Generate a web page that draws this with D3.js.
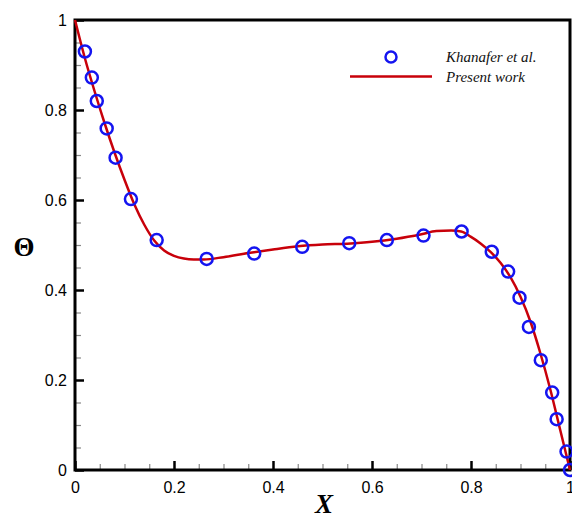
<!DOCTYPE html>
<html><head><meta charset="utf-8">
<script src="https://cdn.jsdelivr.net/npm/d3@7"></script>
<style>html,body{margin:0;padding:0;background:#fff;overflow:hidden}</style>
</head><body><svg id="c" width="572" height="514"></svg>
<script>
// Khanafer et al. (circles)
const refX = [0.020,0.034,0.044,0.064,0.082,0.113,0.165,0.266,0.362,0.459,0.554,0.630,0.704,0.781,0.842,0.875,0.898,0.917,0.941,0.964,0.973,0.993,1.000];
const refY = [0.930,0.872,0.820,0.759,0.694,0.602,0.511,0.469,0.481,0.496,0.504,0.511,0.521,0.530,0.485,0.441,0.383,0.318,0.244,0.172,0.113,0.041,0.000];
// Present work (line)
const lineX = [0,0.02,0.04,0.06,0.08,0.1,0.12,0.14,0.16,0.18,0.2,0.22,0.24,0.26,0.3,0.35,0.4,0.45,0.5,0.55,0.6,0.65,0.7,0.73,0.76,0.78,0.8,0.82,0.84,0.86,0.88,0.9,0.92,0.94,0.96,0.98,1.0];
const lineY = [1,0.915,0.84,0.77,0.705,0.645,0.59,0.545,0.51,0.488,0.476,0.47,0.468,0.468,0.473,0.482,0.49,0.497,0.501,0.503,0.507,0.514,0.524,0.531,0.532,0.53,0.518,0.503,0.484,0.46,0.428,0.385,0.33,0.26,0.18,0.09,0];
const xTicks = [0,0.2,0.4,0.6,0.8,1];
const yTicks = [0,0.2,0.4,0.6,0.8,1];
const minorTicks = d3.range(0.05,1,0.05).filter(v => Math.abs(v*5-Math.round(v*5))>1e-6);
const legendLabels = ["Khanafer et al.","Present work"];

const svg = d3.select("#c");
const L=75,R=570,T=20,B=470;
const x = d3.scaleLinear().domain([0,1]).range([L,R]);
const y = d3.scaleLinear().domain([0,1]).range([B,T]);

const g = svg.append("g");
// minor ticks
const xMinor = d3.axisBottom(x).tickValues(minorTicks).tickSize(-6).tickFormat("");
const gxm = g.append("g").attr("transform",`translate(0,${B})`).call(xMinor);
gxm.select(".domain").remove();
gxm.selectAll("line").attr("stroke","#888").attr("stroke-width",1.2);
const yMinor = d3.axisLeft(y).tickValues(minorTicks).tickSize(-6).tickFormat("");
const gym = g.append("g").attr("transform",`translate(${L},0)`).call(yMinor);
gym.select(".domain").remove();
gym.selectAll("line").attr("stroke","#888").attr("stroke-width",1.2);

// major
const xAxis = d3.axisBottom(x).tickValues(xTicks).tickSize(-9).tickPadding(12).tickFormat(d3.format("~g"));
const gx = g.append("g").attr("transform",`translate(0,${B})`).call(xAxis);
gx.select(".domain").remove();
gx.selectAll("line").attr("stroke","#000").attr("stroke-width",2.5);
gx.selectAll("text").attr("font-family","Liberation Sans, Arial, sans-serif").attr("font-size",16).attr("fill","#000");
const yAxis = d3.axisLeft(y).tickValues(yTicks).tickSize(-9).tickPadding(8).tickFormat(d3.format("~g"));
const gy = g.append("g").attr("transform",`translate(${L},0)`).call(yAxis);
gy.select(".domain").remove();
gy.selectAll("line").attr("stroke","#000").attr("stroke-width",2.5);
gy.selectAll("text").attr("font-family","Liberation Sans, Arial, sans-serif").attr("font-size",16).attr("fill","#000");

// frame
g.append("rect").attr("x",L).attr("y",T).attr("width",R-L).attr("height",B-T)
  .attr("fill","none").attr("stroke","#000").attr("stroke-width",3);

// line
const line = d3.line().x(d=>x(d[0])).y(d=>y(d[1])).curve(d3.curveMonotoneX);
g.append("path").datum(lineX.map((v,i)=>[v,lineY[i]])).attr("d",line)
  .attr("fill","none").attr("stroke","#c8000a").attr("stroke-width",2.5);

// circles
g.selectAll("circle.ref").data(refX.map((v,i)=>[v,refY[i]])).join("circle").attr("class","ref")
  .attr("cx",d=>x(d[0])).attr("cy",d=>y(d[1])).attr("r",6)
  .attr("fill","none").attr("stroke","#1414f0").attr("stroke-width",2.5);

// legend
const lg = svg.append("g");
lg.append("circle").attr("cx",391).attr("cy",57).attr("r",5.5).attr("fill","none").attr("stroke","#1414f0").attr("stroke-width",2.5);
lg.append("line").attr("x1",350).attr("x2",432).attr("y1",76.5).attr("y2",76.5).attr("stroke","#c8000a").attr("stroke-width",2.5);
lg.selectAll("text").data(legendLabels).join("text")
  .attr("x",446).attr("y",(d,i)=>62+i*20).text(d=>d)
  .attr("font-family","Liberation Serif, Times New Roman, serif").attr("font-style","italic").attr("font-size",15).attr("fill","#111");

// axis titles
svg.append("text").attr("x",324).attr("y",513).attr("text-anchor","middle")
  .attr("font-family","Liberation Serif, Times New Roman, serif").attr("font-style","italic").attr("font-weight","bold")
  .attr("font-size",27).text("X");
svg.append("text").attr("x",24).attr("y",256).attr("text-anchor","middle")
  .attr("font-family","Liberation Serif, Times New Roman, serif").attr("font-weight","bold")
  .attr("font-size",27).text("Θ");
</script></body></html>
